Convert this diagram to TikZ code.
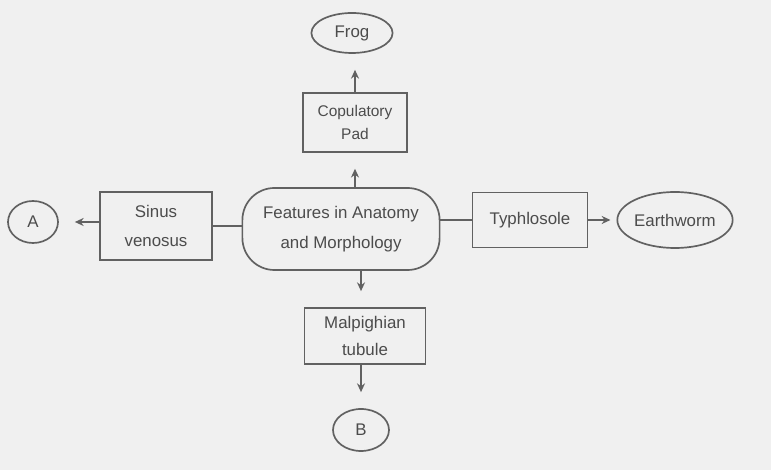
\documentclass[tikz,border=0pt]{standalone}
\usepackage{fontspec}
\setmainfont{Liberation Sans}
\usetikzlibrary{shapes.geometric,arrows.meta}
\definecolor{paper}{gray}{0.94}
\definecolor{ink}{gray}{0.38}
\definecolor{print}{gray}{0.3}
\tikzset{
	box/.style={draw=ink, line width=1.2pt, text=print, align=center, inner sep=0pt},
	oval/.style={box, ellipse},
	link/.style={draw=ink, line width=1.2pt},
	feed/.style={link, -{Stealth[length=2.2mm,width=2mm]}, shorten >=0.4cm}
}
\begin{document}
\begin{tikzpicture}[font=\fontsize{12}{21}\selectfont]
	
	\fill[paper] (0,0) rectangle (19.275,11.75);
	\useasboundingbox (0,0) rectangle (19.275,11.75);
	
	
	\node[box, rounded corners=0.8cm, minimum width=4.93cm, minimum height=2.05cm] (feat) at (8.525, 6.025) {Features in Anatomy\\and Morphology};
	
	\node[box, minimum width=2.6cm, minimum height=1.475cm, font=\fontsize{11}{16}\selectfont] (pad) at (8.875, 8.69) {Copulatory\\Pad};
	\node[oval, minimum width=2.03cm, minimum height=1.0cm] (frog) at (8.8, 10.925) {Frog};
	
	\node[box, minimum width=2.8cm, minimum height=1.7cm] (sinus) at (3.9, 6.1) {Sinus\\venosus};
	\node[oval, minimum width=1.25cm, minimum height=1.05cm] (a) at (0.825, 6.2) {A};
	
	\node[box, minimum width=2.875cm, minimum height=1.375cm] (typh) at (13.25, 6.25) {Typhlosole};
	\node[oval, minimum width=2.875cm, minimum height=1.4cm] (earth) at (16.875, 6.25) {Earthworm};
	
	\node[box, minimum width=3.025cm, minimum height=1.4cm, font=\fontsize{12}{19}\selectfont] (malp) at (9.125, 3.35) {Malpighian\\tubule};
	\node[oval, minimum width=1.4cm, minimum height=1.05cm] (b) at (9.025, 1.0) {B};
	
	
	\draw[feed] (feat.north -| pad) -- (pad.south);
	\draw[feed] (pad.north) -- (pad.north |- frog.south);
	
	\draw[link] (feat.west |- sinus) -- (sinus.east);
	\draw[feed] (sinus.west |- a) -- (a.east);
	
	\draw[link] (feat.east |- typh) -- (typh.west);
	\draw[feed, shorten >=0.15cm] (typh.east) -- (earth.west);
	
	\draw[feed] (feat.south -| b) -- (malp.north -| b);
	\draw[feed] (malp.south -| b) -- (b.north);
	
\end{tikzpicture}
\end{document}
